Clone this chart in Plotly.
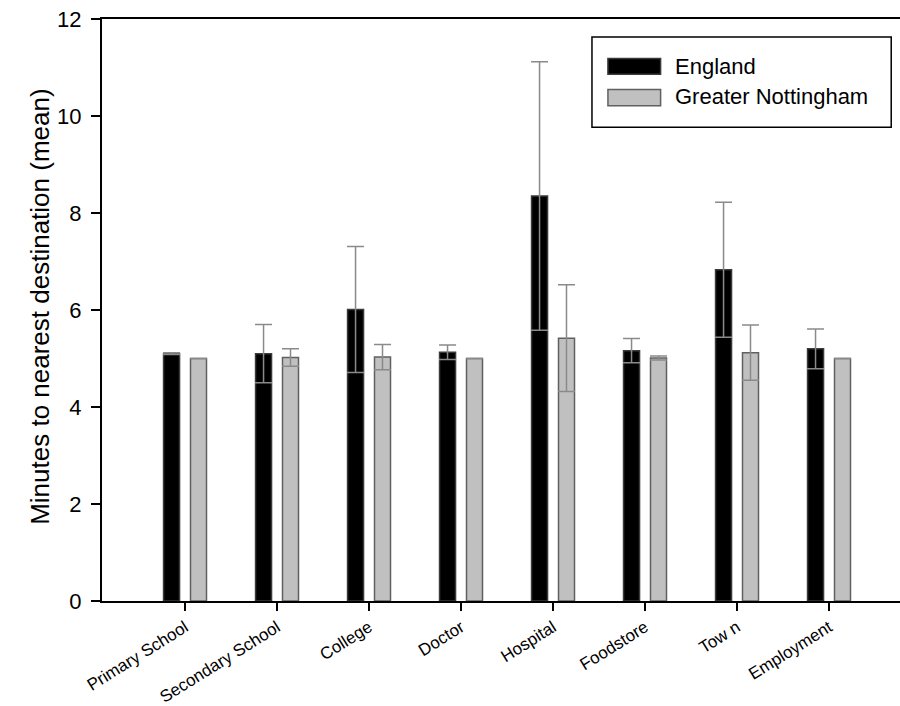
import plotly.graph_objects as go

categories = ["Primary School", "Secondary School", "College", "Doctor",
              "Hospital", "Foodstore", "Tow n", "Employment"]
england = [5.10, 5.10, 6.01, 5.13, 8.35, 5.16, 6.83, 5.20]
england_err = [0.02, 0.60, 1.30, 0.15, 2.77, 0.25, 1.39, 0.41]
notts = [5.00, 5.02, 5.03, 5.00, 5.42, 5.01, 5.12, 5.00]
notts_err = [0.0, 0.18, 0.26, 0.0, 1.10, 0.04, 0.57, 0.0]
y_ticks = [0, 2, 4, 6, 8, 10, 12]

FONT = "Liberation Sans, Arial, sans-serif"
xs = list(range(len(categories)))

fig = go.Figure()
fig.add_trace(go.Bar(
    x=xs, y=england, width=0.174, offset=-0.233,
    marker=dict(color="#000000", line=dict(color="#3a3a3a", width=1.5)),
    error_y=dict(type="data", array=england_err, visible=True,
                 color="#8a8a8a", thickness=1.5, width=8.5),
    name="England", showlegend=False))
fig.add_trace(go.Bar(
    x=xs, y=notts, width=0.174, offset=0.06,
    marker=dict(color="#c0c0c0", line=dict(color="#606060", width=1.5)),
    error_y=dict(type="data", array=notts_err, visible=True,
                 color="#8a8a8a", thickness=1.5, width=8.5),
    name="Greater Nottingham", showlegend=False))

# manual legend
shapes = [
    dict(type="rect", xref="paper", yref="paper", x0=0.614, x1=0.989, y0=0.814, y1=0.969,
         line=dict(color="black", width=1.5), fillcolor="white"),
    dict(type="rect", xref="paper", yref="paper", x0=0.634, x1=0.700, y0=0.905, y1=0.932,
         line=dict(color="#3a3a3a", width=1.5), fillcolor="black"),
    dict(type="rect", xref="paper", yref="paper", x0=0.634, x1=0.700, y0=0.851, y1=0.879,
         line=dict(color="#606060", width=1.5), fillcolor="#c0c0c0"),
]
annotations = [
    dict(text="England", xref="paper", yref="paper", x=0.716, y=0.919,
         xanchor="left", yanchor="middle", showarrow=False,
         font=dict(family=FONT, size=22, color="black")),
    dict(text="Greater Nottingham", xref="paper", yref="paper", x=0.716, y=0.866,
         xanchor="left", yanchor="middle", showarrow=False,
         font=dict(family=FONT, size=22, color="black")),
    dict(text="Minutes to nearest destination (mean)", xref="paper", yref="paper",
         x=-0.078, y=0.505, xanchor="center", yanchor="middle", textangle=-90,
         showarrow=False, font=dict(family=FONT, size=26, color="black")),
]

fig.update_layout(
    width=900, height=706,
    margin=dict(l=102, r=0, t=19, b=105, autoexpand=False),
    paper_bgcolor="white", plot_bgcolor="white",
    barmode="overlay",
    font=dict(family=FONT, color="black"),
    shapes=shapes, annotations=annotations,
    xaxis=dict(range=[-0.902, 7.772], tickmode="array", tickvals=xs,
               ticktext=categories, tickangle=-32, ticks="outside", ticklen=8,
               tickwidth=1.5, tickcolor="black", showline=True, linecolor="black",
               linewidth=2, mirror=True, showgrid=False, zeroline=False,
               automargin=False,
               tickfont=dict(family=FONT, size=17, color="black")),
    yaxis=dict(range=[0, 12], tickmode="array", tickvals=y_ticks, ticks="outside",
               ticklen=9, tickwidth=2, tickcolor="black", showline=True,
               linecolor="black", linewidth=2, showgrid=False, zeroline=False,
               ticklabelstandoff=5, automargin=False,
               tickfont=dict(family=FONT, size=22, color="black")),
)

fig.write_html("out.html")
